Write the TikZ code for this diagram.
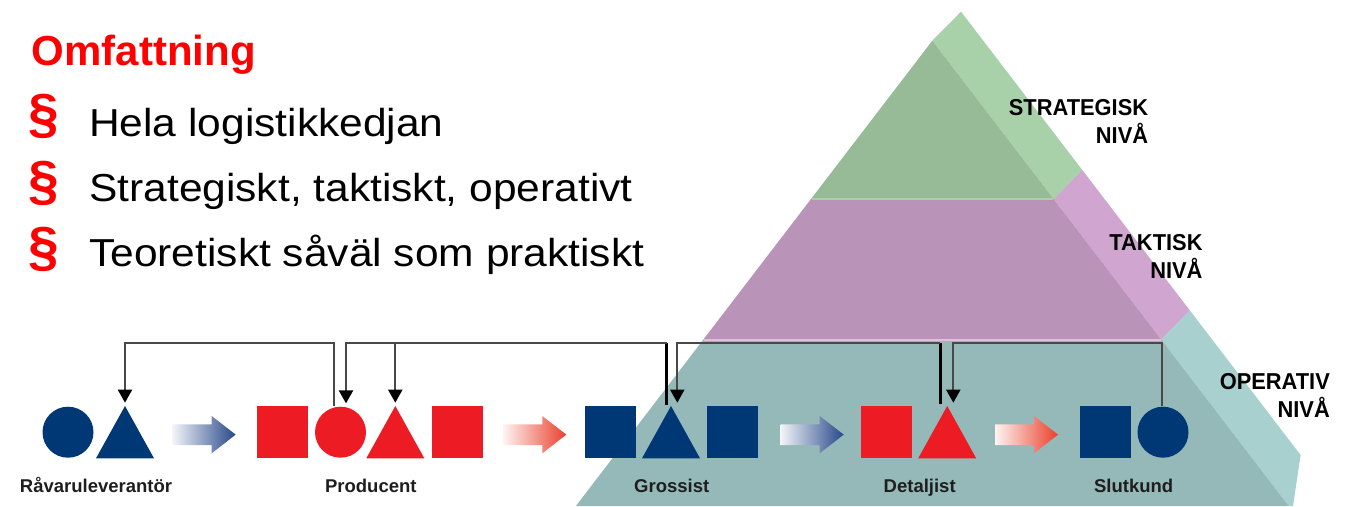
\documentclass[tikz,border=0pt]{standalone}
\usepackage{fontspec}
\setmainfont{Liberation Sans}
\usetikzlibrary{arrows.meta}
\definecolor{navy}{RGB}{0,56,118}
\definecolor{chainred}{RGB}{237,28,36}
\definecolor{titlered}{RGB}{255,0,0}
\definecolor{greenF}{RGB}{151,186,151}
\definecolor{greenS}{RGB}{168,209,169}
\definecolor{purpF}{RGB}{185,148,184}
\definecolor{purpS}{RGB}{208,166,209}
\definecolor{purpL}{RGB}{222,192,222}
\definecolor{tealF}{RGB}{149,185,184}
\definecolor{tealS}{RGB}{167,208,207}
\definecolor{busgray}{RGB}{72,72,72}
\definecolor{labgray}{RGB}{30,30,30}
\definecolor{arrblue}{RGB}{40,72,138}
\definecolor{arrred}{RGB}{234,64,44}
\newcommand{\mytri}[3]{%
  \fill[#1] (#2-29,458.3) -- (#2,406) -- (#2+29,458.3) -- cycle;
  \coordinate (#3) at (#2,406);}
\newcommand{\flowarrow}[2]{%
  \shade[left color=#2!6, right color=#2]
    (#1,424.3) -- (#1+39,424.3) -- (#1+39,416) -- (#1+63,434.6)
    -- (#1+39,453.3) -- (#1+39,445) -- (#1,445) -- cycle;}
\begin{document}
\begin{tikzpicture}[x=1pt,y=-1pt,
  sq/.style={rectangle, minimum width=51pt, minimum height=52pt, inner sep=0pt, outer sep=0pt},
  circ/.style={circle, minimum size=51pt, inner sep=0pt, outer sep=0pt},
  bus/.style={draw=busgray, line width=2pt},
  src/.style={draw=black, line width=3pt},
  arr/.style={bus, -{Triangle[width=14pt,length=13pt,color=black]}},
  lvl/.style={font=\fontsize{23}{28}\selectfont\bfseries, align=right, inner sep=0pt, xscale=0.95, anchor=south east},
  lab/.style={font=\fontsize{18.5}{22}\selectfont\bfseries, text=labgray, inner sep=0pt, anchor=base},
  bul/.style={font=\fontsize{39}{46}\selectfont, inner sep=0pt, anchor=base west, xscale=1.09},
  para/.style={font=\fontsize{55}{60}\selectfont\bfseries, text=titlered, inner sep=0pt, anchor=center},
]
\useasboundingbox (0,0) rectangle (1349,506);

% ---------- pyramid ----------
\fill[greenS] (932.3,40.7) -- (961,11.7) -- (1082.3,170) -- (1053.6,199) -- cycle;
\fill[purpS] (1053.6,199) -- (1082.3,170) -- (1189.9,310.5) -- (1161.2,339.5) -- cycle;
\fill[tealS] (1161.2,339.5) -- (1189.9,310.5) -- (1300.6,455) -- (1293,506) -- (1288.7,506) -- cycle;
\fill[greenF] (932.3,40.7) -- (1053.6,199) -- (811,199) -- cycle;
\fill[purpF] (811,199) -- (1053.6,199) -- (1161.2,339.5) -- (703.4,339.5) -- cycle;
\fill[tealF] (703.4,339.5) -- (1161.2,339.5) -- (1288.7,506) -- (575.9,506) -- cycle;
\draw[greenS, line width=1.5pt] (811.5,199) -- (1053.2,199);
\draw[purpL, line width=1.8pt] (703.8,340) -- (1161,340);

\node[lvl] (lS) at (1148.3,144) {STRATEGISK\\NIVÅ};
\node[lvl] (lT) at (1202.7,278.3) {TAKTISK\\NIVÅ};
\node[lvl] (lO) at (1330,418) {OPERATIV\\NIVÅ};

% ---------- text block ----------
\node[font=\fontsize{42}{48}\selectfont\bfseries, text=titlered, inner sep=0pt, anchor=base west] (title) at (31.5,65) {Omfattning};
\node[para] (p1) at (44.2,116.5) {§};
\node[para] (p2) at (44.2,183.3) {§};
\node[para] (p3) at (44.2,249) {§};
\node[bul] (b1) at (89,136.7) {Hela logistikkedjan};
\node[bul] (b2) at (89,201.7) {Strategiskt, taktiskt, operativt};
\node[bul] (b3) at (89,266.7) {Teoretiskt såväl som praktiskt};

% ---------- supply chain shapes ----------
\node[circ, fill=navy] (rC) at (68,432.2) {};
\mytri{navy}{125}{rT}
\node[sq, fill=chainred] (pS1) at (282.2,432.2) {};
\node[circ, fill=chainred] (pC) at (340.5,432.2) {};
\mytri{chainred}{395.3}{pT}
\node[sq, fill=chainred] (pS2) at (457,432.2) {};
\node[sq, fill=navy] (gS1) at (610.5,432.2) {};
\mytri{navy}{671}{gT}
\node[sq, fill=navy] (gS2) at (732,432.2) {};
\node[sq, fill=chainred] (dS) at (886,432.2) {};
\mytri{chainred}{947.2}{dT}
\node[sq, fill=navy] (sS) at (1105,432.2) {};
\node[circ, fill=navy] (sC) at (1163,432.2) {};

\flowarrow{172.7}{arrblue}
\flowarrow{503.3}{arrred}
\flowarrow{780.7}{arrblue}
\flowarrow{995}{arrred}

% ---------- information flow connectors ----------
\coordinate (busY) at (0,343.3);
\draw[arr] ([xshift=-6.2pt,yshift=1pt]pC.north) -- ([xshift=-6.2pt]pC.north |- busY) -| ([yshift=3.3pt]rT);
\draw[src] ([xshift=-4.3pt,yshift=1pt]gT) -- ([xshift=-4.3pt]gT |- busY);
\draw[arr] ([xshift=-4.3pt]gT |- busY) -| ([xshift=5.5pt,yshift=3.3pt]pC.north);
\draw[arr] (pT |- busY) -- ([yshift=3.3pt]pT);
\draw[src] ([xshift=-7.2pt,yshift=1.7pt]dT) -- ([xshift=-7.2pt]dT |- busY);
\draw[arr] ([xshift=-7.2pt]dT |- busY) -| ([xshift=6.3pt,yshift=3.3pt]gT);
\draw[arr] ([xshift=-0.7pt,yshift=1pt]sC.north) -- ([xshift=-0.7pt]sC.north |- busY) -| ([xshift=6.1pt,yshift=3.3pt]dT);

% ---------- labels ----------
\node[lab] (lr) at (96,492.5) {Råvaruleverantör};
\node[lab] (lp) at (370.8,492.5) {Producent};
\node[lab] (lg) at (671.7,492.5) {Grossist};
\node[lab] (ld) at (919.7,492.5) {Detaljist};
\node[lab] (lk) at (1133.7,492.5) {Slutkund};
\end{tikzpicture}
\end{document}
